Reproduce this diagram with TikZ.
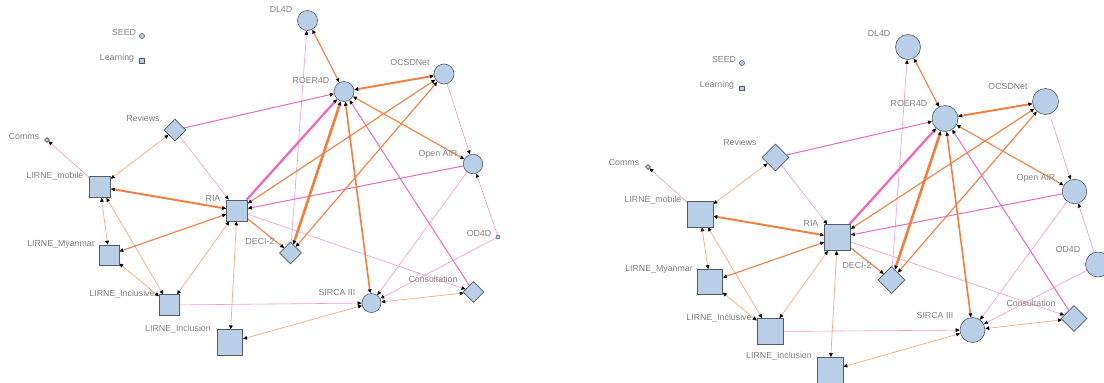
\documentclass[tikz,border=0pt]{standalone}
\usepackage{fontspec}
\setmainfont{Liberation Sans}
\usetikzlibrary{arrows.meta,shapes.geometric,backgrounds}
\definecolor{nodefill}{RGB}{185,207,232}
\definecolor{nodeline}{RGB}{85,90,100}
\definecolor{orng}{RGB}{245,125,60}
\definecolor{peach}{RGB}{243,172,128}
\definecolor{pnk}{RGB}{236,105,190}
\definecolor{lpnk}{RGB}{238,155,212}
\definecolor{lbl}{RGB}{128,128,128}
\begin{document}
\begin{tikzpicture}[x=1pt,y=-1pt,
 circ/.style={circle,draw=nodeline,fill=nodefill,line width=0.6pt,inner sep=0pt,minimum size=#1},
 sq/.style={rectangle,draw=nodeline,fill=nodefill,line width=0.6pt,inner sep=0pt,minimum size=#1},
 dia/.style={diamond,draw=nodeline,fill=nodefill,line width=0.6pt,inner sep=0pt,minimum size=#1},
 lab/.style={text=lbl,font=\fontsize{8.8}{10}\selectfont,inner sep=0pt,anchor=base},
 hd/.tip={Triangle[length=4pt,width=3.6pt,color=black]},
 ar/.style={-hd},
 bi/.style={hd-hd},
 o1/.style={draw=orng,line width=1.1pt},
 o15/.style={draw=orng,line width=1.6pt},
 o2/.style={draw=orng,line width=1.9pt},
 o3/.style={draw=orng,line width=2.6pt},
 pc/.style={draw=peach,line width=0.7pt},
 p0/.style={draw=lpnk,line width=0.6pt},
 p1/.style={draw=pnk,line width=1.0pt},
 p3/.style={draw=pnk,line width=2.3pt}]
\useasboundingbox (0,0) rectangle (1104,383);

% ---------- left panel nodes ----------
\node[circ=5pt] (LSEED) at (142,36) {};
\node[sq=4.5pt] (LLearning) at (142,61) {};
\node[dia=22pt] (LReviews) at (175,130) {};
\node[dia=5pt] (LComms) at (47,140) {};
\node[sq=21pt] (Lmobile) at (100,187) {};
\node[circ=20pt] (LDL4D) at (307.5,20.5) {};
\node[circ=20pt] (LROER4D) at (344,91.5) {};
\node[circ=20pt] (LOCSDNet) at (444,74) {};
\node[circ=19.5pt] (LOpenAIR) at (473,164) {};
\node[circ=4pt] (LOD4D) at (498,237) {};
\node[sq=21pt] (LRIA) at (237,210.5) {};
\node[dia=22pt] (LDECI) at (290.5,253) {};
\node[circ=19pt] (LSIRCA) at (371.5,303) {};
\node[dia=21pt] (LConsultation) at (473.5,292) {};
\node[sq=20pt] (LMyanmar) at (109,255) {};
\node[sq=20.5pt] (LInclusive) at (169.5,305) {};
\node[sq=25.5pt] (LInclusion) at (230,342.5) {};

% ---------- right panel nodes ----------
\node[circ=5pt] (RSEED) at (742,63) {};
\node[sq=4.5pt] (RLearning) at (742,88.5) {};
\node[dia=27pt] (RReviews) at (775.5,157.5) {};
\node[dia=5pt] (RComms) at (648,167) {};
\node[circ=25pt] (RDL4D) at (908,47) {};
\node[circ=26pt] (RROER4D) at (945,118.5) {};
\node[circ=26pt] (ROCSDNet) at (1045.5,101.5) {};
\node[circ=24.5pt] (ROpenAIR) at (1074.5,191.5) {};
\node[circ=25pt] (ROD4D) at (1098,264.5) {};
\node[sq=26pt] (RRIA) at (837.5,237.5) {};
\node[dia=27pt] (RDECI) at (891.5,280) {};
\node[circ=25pt] (RSIRCA) at (972.5,330) {};
\node[dia=26pt] (RConsultation) at (1074,318.5) {};
\node[sq=26pt] (Rmobile) at (700,214) {};
\node[sq=25pt] (RMyanmar) at (710,282) {};
\node[sq=26pt] (RInclusive) at (770,331.5) {};
\node[sq=26pt] (RInclusion) at (830,370.5) {};

% ---------- labels ----------
\node[lab] (LSEEDl) at (124,35) {SEED};
\node[lab] (LLearningl) at (117,60.5) {Learning};
\node[lab] (LReviewsl) at (143,121) {Reviews};
\node[lab] (LCommsl) at (24,139.5) {Comms};
\node[lab] (Lmobilel) at (55,178.5) {LIRNE\_mobile};
\node[lab] (LDL4Dl) at (281,12) {DL4D};
\node[lab] (LROER4Dl) at (311,83) {ROER4D};
\node[lab] (LOCSDNetl) at (410,65) {OCSDNet};
\node[lab] (LOpenAIRl) at (438,156) {Open AIR};
\node[lab] (LRIAl) at (213,201) {RIA};
\node[lab] (LDECIl) at (260,244) {DECI-2};
\node[lab] (LMyanmarl) at (61,246) {LIRNE\_Myanmar};
\node[lab] (LInclusivel) at (122,296) {LIRNE\_Inclusive};
\node[lab] (LInclusionl) at (178,331) {LIRNE\_Inclusion};
\node[lab] (LOD4Dl) at (479,236) {OD4D};
\node[lab] (LConsultationl) at (433,282.5) {Consultation};
\node[lab] (LSIRCAl) at (337,295) {SIRCA III};

\node[lab] (RSEEDl) at (724,62) {SEED};
\node[lab] (RLearningl) at (717,87) {Learning};
\node[lab] (RReviewsl) at (740,145) {Reviews};
\node[lab] (RCommsl) at (624,165) {Comms};
\node[lab] (Rmobilel) at (653,202) {LIRNE\_mobile};
\node[lab] (RMyanmarl) at (659,271) {LIRNE\_Myanmar};
\node[lab] (RInclusivel) at (719,320) {LIRNE\_Inclusive};
\node[lab] (RInclusionl) at (779,358) {LIRNE\_Inclusion};
\node[lab] (RRIAl) at (811,226) {RIA};
\node[lab] (RDL4Dl) at (879,36) {DL4D};
\node[lab] (RROER4Dl) at (909,106) {ROER4D};
\node[lab] (ROCSDNetl) at (1008,89) {OCSDNet};
\node[lab] (ROpenAIRl) at (1036,180) {Open AIR};
\node[lab] (ROD4Dl) at (1068,252) {OD4D};
\node[lab] (RDECIl) at (857,268.5) {DECI-2};
\node[lab] (RConsultationl) at (1031,306.5) {Consultation};
\node[lab] (RSIRCAl) at (935,318.5) {SIRCA III};

% ---------- edges ----------
\begin{scope}[on background layer]
\fill[white] (0,0) rectangle (1104,383);
\foreach \p in {L,R} {
 \draw[p0,ar] (\p DECI) -- (\p DL4D);
 \draw[p0,ar] (\p OCSDNet) -- (\p OpenAIR);
 \draw[p0,ar] (\p OpenAIR) -- (\p SIRCA);
 \draw[p0,ar] (\p OD4D) -- (\p OpenAIR);
 \draw[p0,ar] (\p OD4D) -- (\p SIRCA);
 \draw[p0,ar] (\p RIA) -- (\p Consultation);
 \draw[p0,ar] (\p Inclusive) -- (\p SIRCA);
 \draw[p0,ar] (\p mobile) -- (\p Comms);
 \draw[p0,ar] (\p Reviews) -- (\p RIA);
 \draw[pc,bi] (\p Consultation) -- (\p SIRCA);
 \draw[pc,bi] (\p mobile) -- (\p Myanmar);
 \draw[pc,bi] (\p mobile) -- (\p Inclusive);
 \draw[pc,bi] (\p Inclusive) -- (\p Myanmar);
 \draw[pc,bi] (\p Inclusive) -- (\p RIA);
 \draw[pc,bi] (\p Inclusion) -- (\p RIA);
 \draw[pc,bi] (\p Inclusion) -- (\p SIRCA);
 \draw[pc,bi] (\p mobile) -- (\p Reviews);
 \draw[p1,ar] (\p Reviews) -- (\p ROER4D);
 \draw[p1,ar] (\p Consultation) -- (\p ROER4D);
 \draw[p1,ar] (\p OpenAIR) -- (\p RIA);
 \draw[o1,bi] (\p DL4D) -- (\p ROER4D);
 \draw[o1,bi] (\p RIA) -- (\p OCSDNet);
 \draw[o1,bi] (\p DECI) -- (\p OCSDNet);
 \draw[o1,bi] (\p OpenAIR) -- (\p ROER4D);
 \draw[o1,ar] (\p RIA) -- (\p DECI);
 \draw[o1,bi] (\p Myanmar) -- (\p RIA);
 \draw[o15,bi] (\p SIRCA) -- (\p ROER4D);
 \draw[o2,bi] (\p ROER4D) -- (\p OCSDNet);
 \draw[o2,bi] (\p mobile) -- (\p RIA);
 \draw[o3,bi] (\p DECI) -- (\p ROER4D);
 \draw[p3,ar] (\p RIA) -- (\p ROER4D);
}
\end{scope}
\end{tikzpicture}
\end{document}
